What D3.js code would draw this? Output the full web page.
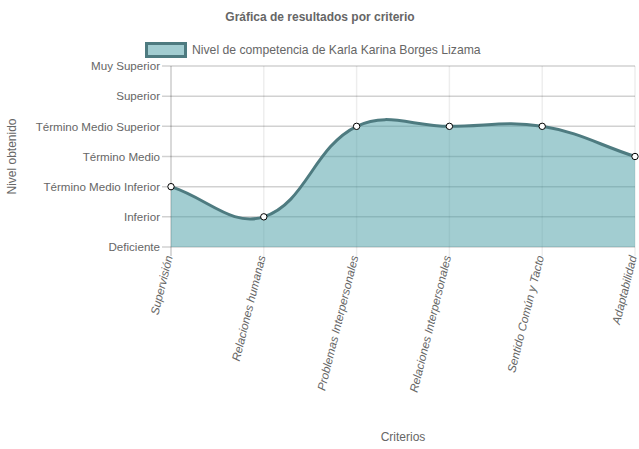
<!DOCTYPE html>
<html><head><meta charset="utf-8">
<script src="https://cdn.jsdelivr.net/npm/d3@7/dist/d3.min.js"></script>
<style>body{margin:0;background:#fff}svg{display:block}text{font-family:"Liberation Sans",Arial,Helvetica,sans-serif;fill:#666}</style>
</head><body><svg id="c" width="639" height="449"></svg>
<script>
const categories = ["Supervisión","Relaciones humanas","Problemas Interpersonales","Relaciones Interpersonales","Sentido Común y Tacto","Adaptabilidad"];
const values = [2,1,4,4,4,3];
const levelLabels = ["Deficiente","Inferior","Término Medio Inferior","Término Medio","Término Medio Superior","Superior","Muy Superior"];
const seriesName = "Nivel de competencia de Karla Karina Borges Lizama";
const chartTitle = "Gráfica de resultados por criterio";
const xTitle = "Criterios";
const yTitle = "Nivel obtenido";

const fillColor = "rgba(69,155,163,0.5)";
const lineColor = "#4e7b80";

const svg = d3.select("#c");
const pLeft = 171, pRight = 635, pTop = 66, pBottom = 247;
const x = d3.scalePoint().domain(categories).range([pLeft, pRight]);
const y = d3.scaleLinear().domain([0, levelLabels.length - 1]).range([pBottom, pTop]);

// Chart.js-like spline (tension 0.4)
function ChartJsCurve(context){ this._context = context; }
ChartJsCurve.prototype = {
  areaStart(){ this._line = 0; },
  areaEnd(){ this._line = NaN; },
  lineStart(){ this._pts = []; },
  point(px, py){ this._pts.push([+px, +py]); },
  lineEnd(){
    const p = this._pts, n = p.length, c = this._context, t = 0.4;
    if (n) {
      if (this._line) c.lineTo(p[0][0], p[0][1]); else c.moveTo(p[0][0], p[0][1]);
      const cps = p.map((cur, i) => {
        const prev = p[Math.max(0, i - 1)], next = p[Math.min(n - 1, i + 1)];
        const d01 = Math.hypot(cur[0]-prev[0], cur[1]-prev[1]);
        const d12 = Math.hypot(next[0]-cur[0], next[1]-cur[1]);
        let s01 = d01/(d01+d12), s12 = d12/(d01+d12);
        if (isNaN(s01)) s01 = 0; if (isNaN(s12)) s12 = 0;
        const fa = t*s01, fb = t*s12;
        return {
          pp: [cur[0] - fa*(next[0]-prev[0]), cur[1] - fa*(next[1]-prev[1])],
          np: [cur[0] + fb*(next[0]-prev[0]), cur[1] + fb*(next[1]-prev[1])]
        };
      });
      for (let i = 1; i < n; i++) {
        c.bezierCurveTo(cps[i-1].np[0], cps[i-1].np[1], cps[i].pp[0], cps[i].pp[1], p[i][0], p[i][1]);
      }
    }
    if (this._line || (this._line !== 0 && n === 1)) c.closePath();
    this._line = 1 - this._line;
  }
};
const chartCurve = ctx => new ChartJsCurve(ctx);

// grid
const g = svg.append("g");
levelLabels.forEach((l, i) => {
  g.append("line").attr("x1", pLeft - 9).attr("x2", pRight).attr("y1", y(i)).attr("y2", y(i))
    .attr("stroke", "rgba(0,0,0,0.18)").attr("stroke-width", 1.5);
});
categories.forEach((c, i) => {
  g.append("line").attr("x1", x(c)).attr("x2", x(c)).attr("y1", pTop).attr("y2", pBottom + 9)
    .attr("stroke", i === 0 ? "rgba(0,0,0,0.2)" : "rgba(0,0,0,0.07)").attr("stroke-width", 1.5);
});

// y axis labels
const yAxis = d3.axisLeft(y).tickValues(d3.range(levelLabels.length)).tickFormat(i => levelLabels[i]).tickSize(0).tickPadding(11);
const ya = svg.append("g").attr("transform", `translate(${pLeft},0)`).call(yAxis);
ya.select(".domain").remove();
ya.selectAll("text").attr("font-size", 11.6).style("fill", "#666").attr("font-family", null);

// x axis labels
const xa = svg.append("g");
categories.forEach(c => {
  xa.append("text").attr("transform", `translate(${x(c) - 1},${pBottom + 9}) rotate(-76)`)
    .attr("text-anchor", "end").attr("dy", "0.25em").attr("font-size", 11.6).attr("font-style", "italic").text(c);
});

// area + line
const area = d3.area().x((d, i) => x(categories[i])).y0(pBottom).y1(d => y(d)).curve(chartCurve);
const line = d3.line().x((d, i) => x(categories[i])).y(d => y(d)).curve(chartCurve);
svg.append("path").datum(values).attr("d", area).attr("fill", fillColor);
svg.append("path").datum(values).attr("d", line).attr("fill", "none").attr("stroke", lineColor).attr("stroke-width", 3);
svg.selectAll("circle.pt").data(values).enter().append("circle").attr("class", "pt")
  .attr("cx", (d, i) => x(categories[i])).attr("cy", d => y(d)).attr("r", 3.2)
  .attr("fill", "#fff").attr("stroke", "#000").attr("stroke-width", 1);

// title
svg.append("text").attr("x", 320).attr("y", 21).attr("text-anchor", "middle").attr("font-size", 12).attr("font-weight", "bold").text(chartTitle);
// legend
svg.append("rect").attr("x", 146.5).attr("y", 43.5).attr("width", 39).attr("height", 13).attr("fill", fillColor).attr("stroke", lineColor).attr("stroke-width", 3);
svg.append("text").attr("x", 192).attr("y", 54).attr("font-size", 12.2).text(seriesName);
// axis titles
svg.append("text").attr("x", (pLeft + pRight) / 2).attr("y", 441).attr("text-anchor", "middle").attr("font-size", 12).text(xTitle);
svg.append("text").attr("transform", `translate(16,${(pTop + pBottom) / 2}) rotate(-90)`).attr("text-anchor", "middle").attr("font-size", 12).text(yTitle);
</script></body></html>
